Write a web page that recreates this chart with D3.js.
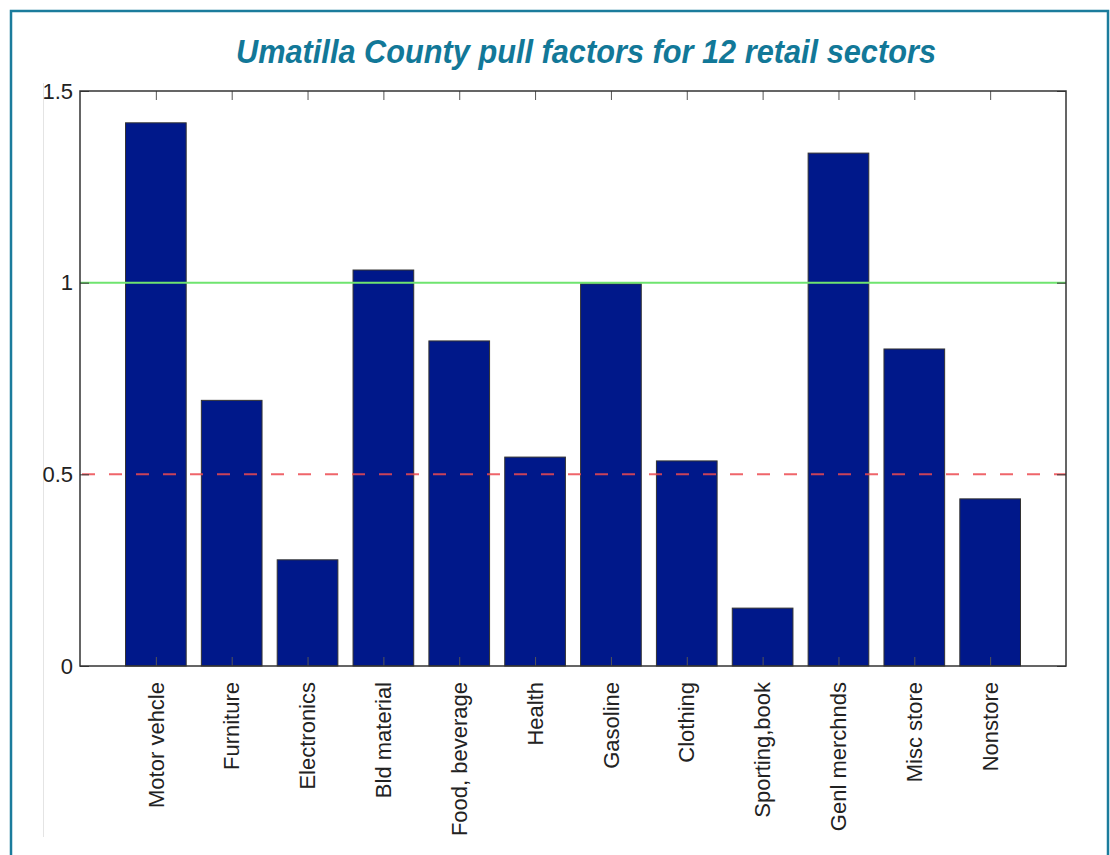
<!DOCTYPE html>
<html>
<head>
<meta charset="utf-8">
<script src="https://cdn.jsdelivr.net/npm/d3@7"></script>
<style>
  body { margin: 0; background: #fff; }
  svg text { font-family: "Liberation Sans", Arial, sans-serif; }
</style>
</head>
<body>
<svg id="chart" width="1110" height="855"></svg>
<script>
// data
const sectors = ['Motor vehcle', 'Furniture', 'Electronics', 'Bld material', 'Food, beverage',
  'Health', 'Gasoline', 'Clothing', 'Sporting,book', 'Genl merchnds', 'Misc store', 'Nonstore'];
const pullFactors = [1.417, 0.693, 0.277, 1.033, 0.848, 0.545, 0.997, 0.535, 0.151, 1.338, 0.827, 0.436];
const yTicks = [0, 0.5, 1, 1.5];
const refLines = [1, 0.5];

const svg = d3.select('#chart');
const plotL = 80, plotR = 1066, plotT = 91, plotB = 666;

// outer frame
svg.append('rect')
  .attr('x', 11).attr('y', 11)
  .attr('width', 1097).attr('height', 870)
  .attr('fill', 'none')
  .attr('stroke', '#1b7c9c')
  .attr('stroke-width', 2.5);

svg.append('line')
  .attr('x1', 43.5).attr('x2', 43.5)
  .attr('y1', 83).attr('y2', 837)
  .attr('stroke', '#e4e4e4')
  .attr('stroke-width', 1);

svg.append('text')
  .attr('x', 586).attr('y', 63)
  .attr('text-anchor', 'middle')
  .attr('textLength', 700)
  .attr('lengthAdjust', 'spacingAndGlyphs')
  .attr('fill', '#127898')
  .style('font-family', '"Liberation Sans Narrow", "Liberation Sans", Arial, sans-serif')
  .style('font-size', '34px')
  .style('font-weight', 'bold')
  .style('font-style', 'italic')
  .text('Umatilla County pull factors for 12 retail sectors');

const x = d3.scaleLinear().domain([0, sectors.length + 1]).range([plotL, plotR]);
const y = d3.scaleLinear().domain([0, 1.5]).range([plotB, plotT]);
const barW = x(0.8) - x(0);

// bars
svg.append('g').selectAll('rect')
  .data(pullFactors)
  .join('rect')
  .attr('x', (d, i) => x(i + 1) - barW / 2)
  .attr('y', d => y(d))
  .attr('width', barW)
  .attr('height', d => y(0) - y(d))
  .attr('fill', '#00188a')
  .attr('stroke', '#333')
  .attr('stroke-width', 1);

// reference lines
svg.append('line')
  .attr('x1', plotL).attr('x2', plotR)
  .attr('y1', y(refLines[0])).attr('y2', y(refLines[0]))
  .attr('stroke', '#6fe46f')
  .attr('stroke-width', 2);

svg.append('line')
  .attr('x1', plotL).attr('x2', plotR)
  .attr('y1', y(refLines[1])).attr('y2', y(refLines[1]))
  .attr('stroke', '#ec4a50')
  .attr('stroke-opacity', 0.85)
  .attr('stroke-width', 2)
  .attr('stroke-dasharray', '13,14')
  .attr('stroke-dashoffset', -2);

// axes, inward ticks like matlab
const tickLen = 9;
const xTickVals = d3.range(1, sectors.length + 1);

svg.append('g')
  .attr('transform', `translate(${plotL},0)`)
  .call(d3.axisLeft(y).tickValues(yTicks).tickFormat(d3.format('~g')).tickSize(-tickLen).tickPadding(7))
  .call(g => g.select('.domain').remove())
  .call(g => g.selectAll('text').style('font-size', '22px').attr('fill', '#222'))
  .call(g => g.selectAll('line').attr('stroke', '#333'));

svg.append('g')
  .attr('transform', `translate(${plotR},0)`)
  .call(d3.axisRight(y).tickValues(yTicks).tickSize(-tickLen).tickFormat(''))
  .call(g => g.select('.domain').remove())
  .call(g => g.selectAll('line').attr('stroke', '#333'));

svg.append('g')
  .attr('transform', `translate(0,${plotT})`)
  .call(d3.axisTop(x).tickValues(xTickVals).tickSize(-tickLen).tickFormat(''))
  .call(g => g.select('.domain').remove())
  .call(g => g.selectAll('line').attr('stroke', '#555'));

svg.append('g')
  .attr('transform', `translate(0,${plotB})`)
  .call(d3.axisBottom(x).tickValues(xTickVals).tickSize(-tickLen).tickFormat(''))
  .call(g => g.select('.domain').remove())
  .call(g => g.selectAll('line').attr('stroke', '#555'));

svg.append('rect')
  .attr('x', plotL).attr('y', plotT)
  .attr('width', plotR - plotL).attr('height', plotB - plotT)
  .attr('fill', 'none')
  .attr('stroke', '#333')
  .attr('stroke-width', 1.5);

// rotated category labels
svg.append('g').selectAll('text')
  .data(sectors)
  .join('text')
  .attr('transform', (d, i) => `translate(${x(i + 1)},${plotB + 16}) rotate(-90)`)
  .attr('text-anchor', 'end')
  .attr('dy', '0.35em')
  .attr('fill', '#222')
  .style('font-size', '22px')
  .text(d => d);
</script>
</body>
</html>
